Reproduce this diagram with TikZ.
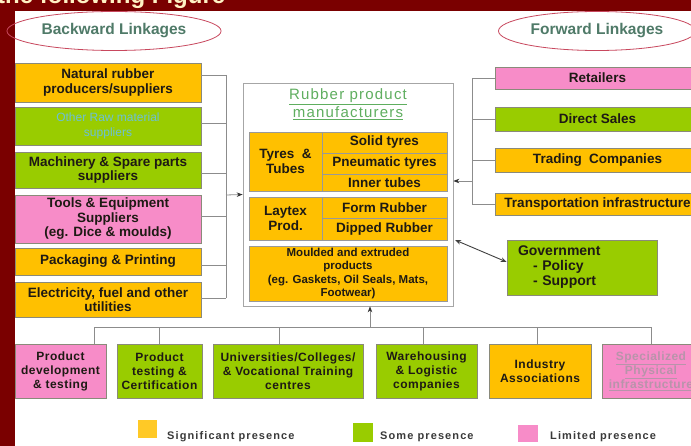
\documentclass[tikz,border=0pt]{standalone}
\usepackage{fontspec}
\setmainfont{Liberation Sans}
\newfontfamily\spacedfont{Liberation Sans}[LetterSpace=4]
\newfontfamily\legendfont{Liberation Sans}[LetterSpace=10]
\newfontfamily\titlefont{Liberation Sans}[LetterSpace=8]
\usetikzlibrary{shapes.geometric,arrows.meta,calc}

\definecolor{frame}{HTML}{7A0000}
\definecolor{sigyellow}{HTML}{FFC000}
\definecolor{somegreen}{HTML}{99CC00}
\definecolor{limpink}{HTML}{F78CC8}
\definecolor{linegray}{HTML}{8C8C8C}
\definecolor{boxedge}{HTML}{8A8A7A}
\definecolor{inktext}{HTML}{1E1A14}
\definecolor{linkhead}{HTML}{4F7A68}
\definecolor{ovalred}{HTML}{C8485E}
\definecolor{titlegreen}{HTML}{5FAE5F}
\definecolor{bannertext}{HTML}{FFF2C4}
\definecolor{fadeblue}{HTML}{6CC0D6}
\definecolor{fadegray}{HTML}{B894AA}
\definecolor{legendtext}{HTML}{3A3A3A}

\begin{document}
\begin{tikzpicture}[x=1pt,y=-1pt,
  wh/.style 2 args={minimum width=#1, minimum height=#2},
  box/.style={draw=boxedge, line width=0.6pt, inner sep=2pt, align=center,
    text=inktext, font=\bfseries\fontsize{13.5}{14.5}\selectfont},
  ybox/.style={box, fill=sigyellow},
  gbox/.style={box, fill=somegreen},
  pbox/.style={box, fill=limpink},
  cell/.style={ybox, draw=black!40, line width=0.5pt},
  bbox/.style={box, font=\spacedfont\bfseries\fontsize{12}{14}\selectfont},
  oval/.style={ellipse, draw=ovalred, line width=0.8pt, text=linkhead,
    font=\bfseries\fontsize{15.5}{18}\selectfont},
  conn/.style={draw=linegray, line width=0.8pt},
  arr/.style={conn, -{Stealth[length=6pt,width=4.5pt,color=black!80]}},
  legend/.style={anchor=west, inner sep=0pt, text=legendtext,
    font=\legendfont\bfseries\fontsize{11}{13}\selectfont},
  swatch/.style={inner sep=0pt, wh={19}{18}}
]
\useasboundingbox (0,0) rectangle (691,446);
\clip (0,0) rectangle (691,446);

% slide frame and banner
\fill[frame] (0,0) rectangle (691,446);
\fill[white] (15,11) rectangle (691,446);
\node[anchor=base west, inner sep=0pt, text=bannertext,
  font=\bfseries\fontsize{24}{28}\selectfont] (banner) at (-3,4) {the following Figure};

% headings
\node[oval, wh={198}{39}] (back) at (114,31) {Backward Linkages};
\node[oval, wh={192}{39}] (fwd) at (597,31) {Forward Linkages};

% backward linkages
\node[ybox, wh={186}{39}] (L1) at (108,82.5) {Natural rubber\\producers/suppliers};
\node[gbox, wh={186}{38}, text=fadeblue, font=\fontsize{12}{15}\selectfont] (L2) at (108,126) {Other Raw material\\suppliers};
\node[gbox, wh={186}{36}] (L3) at (108,170) {Machinery \& Spare parts\\suppliers};
\node[pbox, wh={186}{48}] (L4) at (108,219) {Tools \& Equipment\\Suppliers\\(eg. Dice \& moulds)};
\node[ybox, wh={186}{27}] (L5) at (108,261.5) {Packaging \& Printing};
\node[ybox, wh={186}{35}] (L6) at (108,299.5) {Electricity, fuel and other\\utilities};

% manufacturers block
\node[draw=black!35, line width=0.7pt, fill=white, wh={210}{223}] (C) at (348,194.5) {};
\node[text=titlegreen, align=center, inner sep=0pt,
  font=\titlefont\fontsize{15}{18}\selectfont] (title) at (348,104)
  {\underline{Rubber product}\\\underline{manufacturers}};

\node[cell, wh={73}{59}] (Tl) at (285.5,161.5) {Tyres \ \&\\Tubes};
\node[cell, wh={125}{21}] (T1) at (384.5,142.5) {Solid tyres};
\node[cell, wh={125}{21}] (T2) at (384.5,163.5) {Pneumatic tyres};
\node[cell, wh={125}{17}] (T3) at (384.5,182.5) {Inner tubes};

\node[cell, wh={73}{43}] (Pl) at (285.5,218.5) {Laytex\\Prod.};
\node[cell, wh={125}{21}] (P1) at (384.5,207.5) {Form Rubber};
\node[cell, wh={125}{22}] (P2) at (384.5,229) {Dipped Rubber};

\node[cell, wh={198}{55}, font=\bfseries\fontsize{11.5}{13.5}\selectfont] (M) at (348,273.5)
  {Moulded and extruded\\products\\(eg. Gaskets, Oil Seals, Mats,\\Footwear)};

% forward linkages
\node[pbox, wh={205}{22}] (R1) at (597.5,78) {Retailers};
\node[gbox, wh={205}{24}] (R2) at (597.5,119) {Direct Sales};
\node[ybox, wh={205}{24}] (R3) at (597.5,160) {Trading \ Companies};
\node[ybox, wh={205}{22}] (R4) at (597.5,204) {Transportation infrastructure};

\node[gbox, wh={150}{55}, align=left, text width=128pt, inner xsep=11pt,
  font=\bfseries\fontsize{14}{15}\selectfont] (G) at (582,267.5)
  {Government\\\hspace*{15pt}- Policy\\\hspace*{15pt}- Support};

% support institutions
\node[pbox, bbox, wh={91}{54}] (B1) at (60.5,371) {Product\\development\\\& testing};
\node[gbox, bbox, wh={85}{54}] (B2) at (159.5,371) {Product\\testing \&\\Certification};
\node[gbox, bbox, wh={150}{54}] (B3) at (288,371) {Universities/Colleges/\\\& Vocational Training\\centres};
\node[gbox, bbox, wh={101}{54}] (B4) at (426.5,371) {Warehousing\\\& Logistic\\companies};
\node[ybox, bbox, wh={102}{54}] (B5) at (540,371) {Industry\\Associations};
\node[pbox, bbox, wh={98}{54}, text=fadegray] (B6) at (651,371)
  {\underline{Specialized}\\\underline{Physical}\\\underline{infrastructure}};

% backward bracket
\coordinate (lbT) at (226,75);
\coordinate (lbB) at (226,298);
\coordinate (lbA) at (226,195);
\draw[conn] ([yshift=7.5pt]L1.east) -- (lbT);
\draw[conn] ([yshift=3pt]L2.east) -- ++(25,0);
\draw[conn] ([yshift=-3pt]L3.east) -- ++(25,0);
\draw[conn] ([yshift=3pt]L4.east) -- ++(25,0);
\draw[conn] ([yshift=-3.5pt]L5.east) -- ++(25,0);
\draw[conn] ([yshift=1.5pt]L6.east) -- (lbB);
\draw[conn] (lbT) -- (lbB);
\draw[arr] (lbA) -- (C.west);

% forward bracket
\coordinate (rbT) at (472,78);
\coordinate (rbA) at (472,181);
\draw[conn] (R1.west) -- (R1.west -| rbT);
\draw[conn] (R2.west) -- (R2.west -| rbT);
\draw[conn] (R3.west) -- (R3.west -| rbT);
\draw[conn] (R4.west) -- (R4.west -| rbT);
\draw[conn] (rbT) -- (R4.west -| rbT);
\draw[arr] (rbA) -- (rbA -| C.east);

% government link
\coordinate (gA) at (455,240);
\draw[draw=black!75, line width=0.9pt,
  {Stealth[length=6pt,width=4.5pt]}-{Stealth[length=6pt,width=4.5pt]}]
  (gA) -- ([yshift=5.5pt]G.west);

% support bus
\coordinate (busL) at (94,327);
\coordinate (busR) at (651,327);
\coordinate (busM) at (370,327);
\draw[conn] (busL) -- (busR);
\draw[conn] ([xshift=33.5pt]B1.north) -- (busL);
\draw[conn] (B2.north) -- (B2.north |- busL);
\draw[conn] ([xshift=-9pt]B3.north) -- ++(0,-17);
\draw[conn] ([xshift=-3.5pt]B4.north) -- ++(0,-17);
\draw[conn] ([xshift=-3pt]B5.north) -- ++(0,-17);
\draw[conn] (B6.north) -- (busR);
\draw[arr] (busM) -- (busM |- C.south);

% legend
\node[swatch, fill=sigyellow!85] (k1) at (147.5,429) {};
\node[legend] (k1t) at (167,437) {Significant presence};
\node[swatch, fill=somegreen, wh={20}{19}] (k2) at (363,432.5) {};
\node[legend] (k2t) at (380,437) {Some presence};
\node[swatch, fill=limpink, wh={20}{17}] (k3) at (528,433.5) {};
\node[legend] (k3t) at (550,437) {Limited presence};
\end{tikzpicture}
\end{document}
